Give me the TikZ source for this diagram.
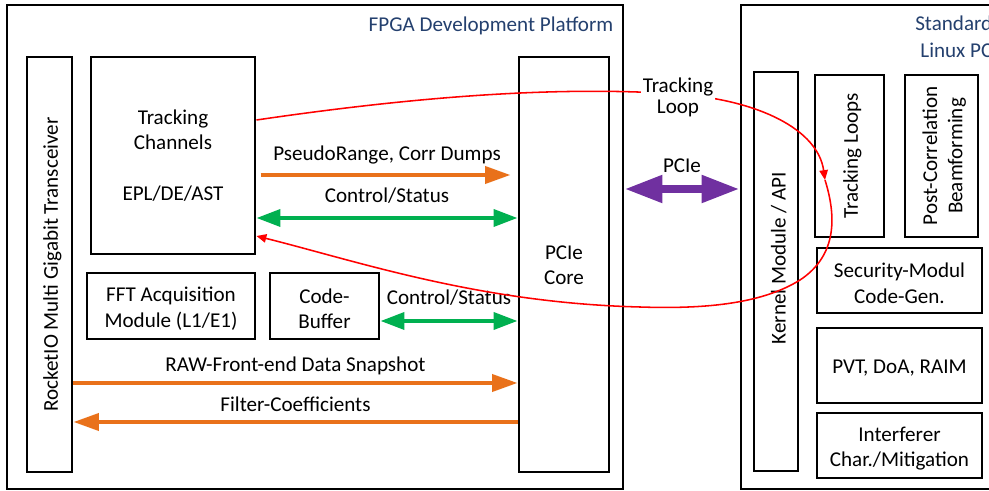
\documentclass[tikz,border=0pt]{standalone}
\usepackage{fontspec}
\setmainfont{Carlito}
\usetikzlibrary{arrows.meta,fit}
\definecolor{flowOrange}{RGB}{233,113,26}
\definecolor{ctrlGreen}{RGB}{0,176,80}
\definecolor{busPurple}{RGB}{112,48,160}
\definecolor{titleBlue}{RGB}{36,64,110}
\tikzset{
  blk/.style={draw, line width=2.1pt, inner sep=0pt},
  txt/.style={font=\fontsize{15}{18}\selectfont, align=center, inner sep=1pt},
  inbox/.style={txt, yshift=-2pt},
  upright/.style={txt, xshift=2pt, rotate=90},
  tag/.style={font=\fontsize{15}{18}\selectfont, anchor=base, midway, yshift=10pt},
  data/.style={draw=flowOrange, line width=2.8pt, -{Triangle[length=18pt,width=12pt]}},
  ctrl/.style={draw=ctrlGreen, line width=2.8pt, {Triangle[length=17pt,width=12pt]}-{Triangle[length=17pt,width=12pt]}},
  bus/.style={draw=busPurple, line width=5.7pt, {Triangle[length=27pt,width=18.5pt]}-{Triangle[length=27pt,width=18.5pt]}},
  loopline/.style={draw=red, line width=1.1pt, -{Triangle[length=7pt,width=6pt]}},
}
\begin{document}
\begin{tikzpicture}[x=0.025cm, y=-0.025cm]
  \useasboundingbox (0,0) rectangle (989,491);

  % FPGA side
  \node[blk, fit={(7,5) (623,489)}] (fpga) {};
  \node[txt, anchor=base east, text=titleBlue] (fpgaT) at (615,32) {FPGA Development Platform};
  \node[blk, fit={(27,57) (72,472)}] (rio) {};
  \node[upright] (rioT) at (rio.center) {RocketIO Multi Gigabit Transceiver};
  \node[blk, fit={(91,57) (255,254)}] (tc) {};
  \node[txt] (tcT) at (tc.center) {Tracking\\Channels\\[18pt]EPL/DE/AST};
  \node[blk, fit={(87,273) (255,339)}] (fft) {};
  \node[inbox] (fftT) at (fft.center) {FFT Acquisition\\Module (L1/E1)};
  \node[blk, fit={(270,273) (379,339)}] (cbuf) {};
  \node[inbox] (cbufT) at (cbuf.center) {Code-\\Buffer};
  \node[blk, fit={(519,57) (609,472)}] (core) {};
  \node[txt, yshift=-0.5pt] (coreT) at (core.center) {PCIe\\Core};

  % Linux PC side
  \node[blk, fit={(741,5) (1010,489)}] (pc) {};
  \node[txt, anchor=north east, align=right, text=titleBlue, font=\fontsize{15}{19}\selectfont] (pcT) at (994,14) {Standard\\Linux PC};
  \node[blk, fit={(754,72) (798,471)}] (kmod) {};
  \node[upright] (kmodT) at (776,258) {Kernel Module~/ API};
  \node[blk, fit={(815,75) (884,237)}] (tloops) {};
  \node[upright] (tloopsT) at (tloops.center) {Tracking Loops};
  \node[blk, fit={(905,75) (978,237)}] (pcbf) {};
  \node[upright] (pcbfT) at (pcbf.center) {Post-Correlation\\Beamforming};
  \node[blk, fit={(817,248) (982,313)}] (sec) {};
  \node[inbox] (secT) at (sec.center) {Security-Modul\\Code-Gen.};
  \node[blk, fit={(817,328) (982,403)}] (pvt) {};
  \node[inbox] (pvtT) at (pvt.center) {PVT, DoA, RAIM};
  \node[blk, fit={(817,413) (982,478)}] (intf) {};
  \node[inbox] (intfT) at (intf.center) {Interferer\\Char./Mitigation};

  % rows of the connectors
  \coordinate (rowTL) at (0,120);
  \coordinate (rowPR) at (0,175);
  \coordinate (rowBus) at (0,189);
  \coordinate (rowCS) at (0,218);
  \coordinate (rowBack) at (0,236);
  \coordinate (rowCB) at (0,321);
  \coordinate (rowRAW) at (0,383);
  \coordinate (rowFC) at (0,422);
  \coordinate (tlp) at (825,180);

  \draw[data, shorten <=3pt, shorten >=5pt] (tc.east |- rowPR) -- node[tag] {PseudoRange, Corr Dumps} (core.west |- rowPR);
  \draw[ctrl] (tc.east |- rowCS) -- node[tag, yshift=0.7pt] {Control/Status} (core.west |- rowCS);
  \draw[ctrl] (cbuf.east |- rowCB) -- node[tag, yshift=1.4pt] {Control/Status} (core.west |- rowCB);
  \draw[data] (rio.east |- rowRAW) -- node[tag, yshift=-2pt] {RAW-Front-end Data Snapshot} (core.west |- rowRAW);
  \draw[data] (core.west |- rowFC) -- node[tag, yshift=-2.5pt] {Filter-Coefficients} (rio.east |- rowFC);
  \draw[bus] (fpga.east |- rowBus) -- node[tag, yshift=2pt] {PCIe} (pc.west |- rowBus);

  % tracking loop
  \draw[loopline] (tc.east |- rowTL) .. controls (420,96) and (560,86) .. (677,94)
    .. controls (760,100) and (818,130) .. (tlp);
  \draw[loopline] (tlp) .. controls (836,215) and (838,255) .. (800,280)
    .. controls (760,305) and (700,309) .. (640,307)
    .. controls (480,303) and (360,262) .. (tc.east |- rowBack);
  \node[txt, fill=white, font=\fontsize{15}{15}\selectfont, yshift=-2pt] (tlab) at (678,95) {Tracking\\Loop};
\end{tikzpicture}
\end{document}
